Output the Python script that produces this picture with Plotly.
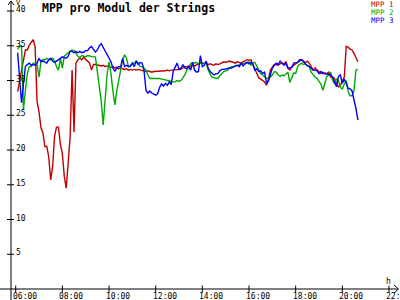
import plotly.graph_objects as go

# ---------------- data (5-minute samples starting 06:05) ----------------
START_HOUR = 6 + 5 / 60
STEP_HOURS = 5 / 60

mpp1 = [
    28.4, 29.8, 31.5, 33.0, 34.4, 34.4, 35.1, 35.5, 35.9, 34.8, 27.0,              # 06
    25.5, 23.2, 22.5, 20.5, 20.5, 19.0, 15.7, 17.6, 22.0, 23.3, 23.3, 20.8,        # 07
    19.5, 16.2, 14.5, 18.5, 21.9, 31.5, 22.6, 32.5, 33.0, 33.2, 33.0, 33.4,        # 08
    33.0, 32.8, 32.5, 31.5, 32.3, 32.3, 32.2, 32.2, 32.1, 32.2, 32.0, 32.1,        # 09
    32.0, 31.9, 32.0, 31.8, 31.9, 31.7, 31.8, 31.7, 31.6, 31.7, 31.5, 31.6,        # 10
    31.5, 31.6, 31.5, 31.6, 31.5, 31.5, 31.4, 31.3, 31.4, 31.3, 31.2, 31.3,        # 11
    31.3, 31.4, 31.3, 31.4, 31.4, 31.4, 31.5, 31.4, 31.5, 31.5, 31.5, 31.6,        # 12
    31.5, 31.6, 31.8, 32.0, 32.0, 32.1, 32.0, 32.2, 32.1, 32.3, 32.4, 32.5,        # 13
    32.5, 32.4, 32.5, 32.3, 32.4, 32.3, 32.2, 32.4, 32.3, 32.4, 32.6, 32.7,        # 14
    32.6, 32.7, 32.8, 32.7, 32.6, 32.5, 32.7, 32.6, 32.5, 32.7, 32.9, 33.0,        # 15
    32.9, 33.0, 32.3, 31.7, 31.0, 30.4, 30.2, 30.0, 29.8, 29.3, 30.2, 31.5,        # 16
    32.0, 32.3, 32.3, 32.2, 32.4, 32.5, 32.4, 32.7, 31.8, 31.5, 32.0, 32.2,        # 17
    32.3, 32.5, 32.8, 33.0, 32.8, 32.6, 32.8, 32.5, 32.0, 31.5, 31.8, 31.5,        # 18
    31.3, 31.0, 31.2, 31.1, 31.0, 31.2, 30.5, 30.5, 30.3, 29.5, 29.1, 29.3,        # 19
    29.8, 30.5, 34.9, 34.8, 34.5, 34.4, 33.9, 33.2, 32.7,                          # 20
]

mpp2 = [
    34.5, 34.9, 35.0, 25.8, 28.6, 31.0, 32.0, 32.0, 32.5, 32.5, 32.3,              # 06
    30.5, 32.8, 33.0, 33.0, 33.2, 33.0, 33.0, 33.2, 32.8, 32.0, 31.5, 33.2,        # 07
    31.8, 33.5, 33.8, 34.0, 34.2, 34.4, 34.3, 33.8, 33.5, 33.3, 33.6, 33.5,        # 08
    33.4, 33.6, 33.5, 33.5, 33.4, 33.4, 31.3, 29.0, 27.0, 23.6, 27.0, 30.8,        # 09
    32.7, 31.0, 28.5, 26.5, 28.5, 30.0, 31.5, 33.0, 33.7, 33.2, 32.0, 32.0,        # 10
    32.5, 32.5, 32.8, 32.5, 32.0, 32.0, 31.8, 31.5, 30.8, 30.3, 30.3, 30.3,        # 11
    30.4, 30.3, 30.3, 30.2, 30.2, 30.1, 30.0, 30.0, 29.8, 29.8, 29.8, 30.0,        # 12
    29.9, 30.0, 30.4, 30.8, 31.5, 32.0, 32.4, 32.6, 32.5, 32.6, 32.4, 32.6,        # 13
    32.5, 32.4, 32.5, 31.5, 30.9, 30.5, 30.4, 30.3, 30.3, 30.7, 31.0, 31.3,        # 14
    31.4, 31.5, 31.8, 32.0, 32.0, 32.1, 32.2, 32.3, 32.4, 32.5, 32.6, 32.6,        # 15
    32.7, 32.2, 32.5, 32.6, 32.0, 31.5, 31.0, 30.8, 30.5, 30.3, 30.4, 30.5,        # 16
    30.8, 31.3, 31.2, 30.8, 30.6, 30.8, 30.7, 31.0, 31.2, 29.7, 30.5, 31.1,        # 17
    31.0, 32.0, 32.3, 32.5, 32.3, 32.4, 32.2, 32.0, 31.2, 30.8, 30.5, 30.3,        # 18
    29.8, 29.5, 28.6, 29.5, 30.6, 30.8, 31.2, 30.0, 29.5, 30.2, 30.0, 29.0,        # 19
    28.8, 29.5, 30.0, 28.4, 27.8, 27.8, 28.6, 31.5, 31.6,                          # 20
]

mpp3 = [
    34.0, 30.0, 26.8, 29.5, 32.0, 32.3, 32.5, 32.2, 32.3, 32.2, 32.5,              # 06
    33.2, 32.7, 32.8, 32.6, 32.5, 33.0, 33.2, 32.8, 32.6, 32.8, 33.0, 33.3,        # 07
    33.4, 33.3, 33.2, 33.5, 34.2, 34.2, 34.0, 34.2, 34.0, 34.2, 34.0, 34.1,        # 08
    34.3, 34.3, 34.7, 34.9, 34.5, 34.1, 34.4, 35.0, 35.3, 34.8, 34.3, 33.8,        # 09
    33.2, 32.7, 31.8, 31.3, 31.8, 32.0, 32.0, 33.2, 32.0, 32.2, 32.0, 32.1,        # 10
    32.5, 32.0, 32.8, 32.3, 32.6, 32.5, 31.5, 28.6, 28.2, 28.5, 28.2, 28.0,        # 11
    27.9, 28.1, 29.0, 29.5, 29.2, 29.6, 29.3, 29.8, 29.4, 31.3, 32.0, 32.5,        # 12
    31.6, 31.8, 32.3, 31.8, 31.7, 32.0, 31.5, 32.6, 31.5, 31.2, 31.3, 33.6,        # 13
    32.0, 32.2, 32.8, 31.8, 31.3, 31.0, 30.8, 31.0, 31.0, 31.4, 31.6, 31.6,        # 14
    31.7, 31.7, 31.8, 31.8, 32.0, 32.1, 32.2, 32.0, 32.5, 32.1, 32.4, 32.6,        # 15
    32.4, 32.6, 32.4, 31.5, 31.7, 31.3, 31.4, 31.0, 31.2, 29.6, 29.9, 31.0,        # 16
    31.8, 32.2, 32.5, 32.3, 32.8, 32.5, 32.2, 32.5, 31.8, 31.8, 31.9, 32.5,        # 17
    32.5, 32.6, 33.0, 33.0, 32.7, 32.4, 32.1, 32.0, 31.8, 31.5, 31.5, 31.4,        # 18
    31.0, 31.3, 31.0, 31.0, 31.0, 30.9, 30.8, 30.5, 29.8, 29.1, 30.6, 30.8,        # 19
    29.6, 30.2, 29.6, 28.9, 28.8, 28.5, 27.2, 26.0, 24.3,                          # 20
]

series_names = ["MPP 1", "MPP 2", "MPP 3"]
series_colors = ["#c00000", "#00aa00", "#0000ff"]
x_tick_vals = [6, 8, 10, 12, 14, 16, 18, 20, 22]
x_tick_text = ["06:00", "08:00", "10:00", "12:00", "14:00", "16:00", "18:00", "20:00", "22:00"]
y_tick_vals = [5, 10, 15, 20, 25, 30, 35, 40]
y_tick_text = ["5", "10", "15", "20", "25", "30", "35", "40"]
title_text = "MPP pro Modul der Strings"

# ---------------- layout geometry ----------------
W, H = 400, 300
ML, MR, MT, MB = 11, 2, 2, 11
PW, PH = W - ML - MR, H - MT - MB
X_RANGE = [5.799, 22.386]
Y_RANGE = [0, 41.3]
FONT = "DejaVu Sans Mono"


def px_x(p):
    return (p - ML) / PW


def px_y(p):
    return (H - MB - p) / PH


fig = go.Figure()
for name, vals, col in zip(series_names, [mpp1, mpp2, mpp3], series_colors):
    hours = [START_HOUR + i * STEP_HOURS for i in range(len(vals))]
    fig.add_trace(go.Scatter(x=hours, y=vals, mode="lines", name=name,
                             line=dict(color=col, width=1.4), showlegend=False))

shapes = []
line_style = dict(color="black", width=1)
# axis lines
shapes.append(dict(type="line", xref="paper", yref="paper", x0=px_x(0), x1=px_x(398),
                   y0=px_y(289), y1=px_y(289), line=line_style))
shapes.append(dict(type="line", xref="paper", yref="paper", x0=px_x(11), x1=px_x(11),
                   y0=px_y(300), y1=px_y(1), line=line_style))
# arrowheads
shapes.append(dict(type="path", xref="paper", yref="paper",
                   path=f"M {px_x(8)} {px_y(5)} L {px_x(11)} {px_y(1)} L {px_x(14)} {px_y(5)}",
                   line=line_style))
shapes.append(dict(type="path", xref="paper", yref="paper",
                   path=f"M {px_x(394)} {px_y(285)} L {px_x(398.5)} {px_y(289)} L {px_x(394)} {px_y(293)}",
                   line=line_style))
# tick marks through the library scales
for v in x_tick_vals:
    shapes.append(dict(type="line", xref="x", yref="paper", x0=v, x1=v,
                       y0=px_y(292.5), y1=px_y(285.5), line=line_style))
for v in y_tick_vals:
    shapes.append(dict(type="line", xref="paper", yref="y", x0=px_x(7), x1=px_x(14),
                       y0=v, y1=v, line=line_style))

ann = []
for v, t in zip(x_tick_vals, x_tick_text):
    ann.append(dict(x=v, xref="x", y=px_y(296), yref="paper", text=t, showarrow=False,
                    xanchor="left", yanchor="middle", xshift=-5,
                    font=dict(family=FONT, size=8, color="black")))
for v, t in zip(y_tick_vals, y_tick_text):
    ann.append(dict(x=px_x(14), xref="paper", y=v, yref="y", text=t, showarrow=False,
                    xanchor="left", yanchor="middle", yshift=1.5,
                    font=dict(family=FONT, size=8, color="black")))
# units
ann.append(dict(x=px_x(14), xref="paper", y=px_y(3), yref="paper", text="V", showarrow=False,
                xanchor="left", yanchor="middle", font=dict(family=FONT, size=7, color="black")))
ann.append(dict(x=px_x(384), xref="paper", y=px_y(281), yref="paper", text="h", showarrow=False,
                xanchor="left", yanchor="middle", font=dict(family=FONT, size=8, color="black")))
# title
ann.append(dict(x=px_x(40), xref="paper", y=px_y(8), yref="paper",
                text=f"<b>{title_text}</b>", showarrow=False, xanchor="left", yanchor="middle",
                font=dict(family=FONT, size=11.5, color="black")))
# legend
for i, (name, col) in enumerate(zip(series_names, series_colors)):
    ann.append(dict(x=px_x(396), xref="paper", y=px_y(4.5 + 7.8 * i), yref="paper",
                    text=name, showarrow=False, xanchor="right", yanchor="middle",
                    font=dict(family=FONT, size=7.5, color=col)))

fig.update_layout(
    width=W, height=H,
    margin=dict(l=ML, r=MR, t=MT, b=MB, pad=0),
    paper_bgcolor="white", plot_bgcolor="white",
    showlegend=False,
    xaxis=dict(range=X_RANGE, showgrid=False, zeroline=False, showline=False,
               showticklabels=False, ticks=""),
    yaxis=dict(range=Y_RANGE, showgrid=False, zeroline=False, showline=False,
               showticklabels=False, ticks=""),
    shapes=shapes, annotations=ann,
)

fig.write_html("out.html", config={"displayModeBar": False})
